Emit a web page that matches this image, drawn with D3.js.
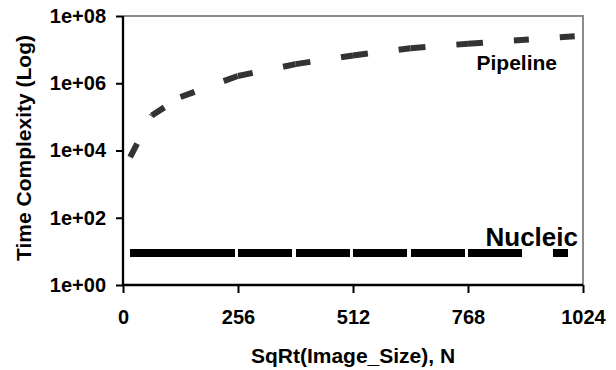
<!DOCTYPE html>
<html>
<head>
<meta charset="utf-8">
<script src="https://cdn.jsdelivr.net/npm/d3@7"></script>
<style>
  body { margin: 0; background: #fff; }
  svg text { font-family: "Liberation Sans", Arial, sans-serif; font-weight: bold; fill: #000; }
</style>
</head>
<body>
<svg id="svg" width="616" height="370"></svg>
<script>
// values
const pipelineN = [16, 64, 128, 256, 384, 512, 640, 768, 1024]
const pipelineT = [6.4e3, 1.1e5, 3.9e5, 1.65e6, 3.7e6, 6.7e6, 1.1e7, 1.5e7, 2.6e7]
const nucleicN = [16, 64, 128, 256, 384, 512, 640, 768, 990]
const nucleicT = [9, 9, 9, 9, 9, 9, 9, 9, 9]
const xTicks = [0, 256, 512, 768, 1024]
const yTicks = [1, 1e2, 1e4, 1e6, 1e8]
const yTickLabels = ['1e+00', '1e+02', '1e+04', '1e+06', '1e+08']

const svg = d3.select('#svg')
const plotL = 123, plotR = 583, plotT = 16, plotB = 285

const x = d3.scaleLinear().domain([0, 1024]).range([plotL, plotR])
const y = d3.scaleLog().domain([1, 1e8]).range([plotB, plotT])

// grey plot border (top & right)
svg.append('path')
  .attr('d', `M${plotL},${plotT}H${plotR}V${plotB}`)
  .attr('fill', 'none')
  .attr('stroke', '#8c8c8c')
  .attr('stroke-width', 2)

// axes
const yAxis = svg.append('g')
  .attr('transform', `translate(${plotL},0)`)
  .call(d3.axisLeft(y).tickValues(yTicks).tickSize(7).tickPadding(10)
    .tickFormat((d, i) => yTickLabels[i]))
const xAxis = svg.append('g')
  .attr('transform', `translate(0,${plotB})`)
  .call(d3.axisBottom(x).tickValues(xTicks).tickSize(8).tickPadding(17)
    .tickFormat(d3.format('d')))

for (const ax of [yAxis, xAxis]) {
  ax.select('.domain').attr('stroke', '#000').attr('stroke-width', 2.3)
  ax.selectAll('.tick line').attr('stroke', '#000').attr('stroke-width', 2)
  ax.selectAll('.tick text').style('font-size', '20px').attr('fill', '#000')
}
yAxis.select('.domain').attr('d', `M0,${plotB}V${plotT}`)
xAxis.select('.domain').attr('d', `M${plotL},0H${plotR}`)

// each segment is dashed on its own, as in the original
function drawSeries(ns, ts, color, width, dash, crisp) {
  const pts = ns.map((n, i) => [x(n), y(ts[i])])
  svg.append('g')
    .attr('shape-rendering', crisp ? 'crispEdges' : 'auto')
    .selectAll('line')
    .data(d3.pairs(pts))
    .enter()
    .append('line')
    .attr('x1', d => d[0][0]).attr('y1', d => d[0][1])
    .attr('x2', d => d[1][0]).attr('y2', d => d[1][1])
    .attr('stroke', color)
    .attr('stroke-width', width)
    .attr('stroke-dasharray', dash)
    .attr('stroke-linecap', 'butt')
}
drawSeries(nucleicN, nucleicT, '#000', 8, '54,31', true)
drawSeries(pipelineN, pipelineT, '#333', 6, '15,31', false)

// series labels
svg.append('text').attr('x', 557).attr('y', 70)
  .attr('text-anchor', 'end').style('font-size', '21px').text('Pipeline')
svg.append('text').attr('x', 578).attr('y', 246)
  .attr('text-anchor', 'end').style('font-size', '26px').text('Nucleic')

// axis titles
svg.append('text')
  .attr('transform', 'translate(31,148) rotate(-90)')
  .attr('text-anchor', 'middle').style('font-size', '21px')
  .text('Time Complexity (Log)')
svg.append('text').attr('x', (plotL + plotR) / 2).attr('y', 363)
  .attr('text-anchor', 'middle').style('font-size', '21px')
  .text('SqRt(Image_Size), N')
</script>
</body>
</html>
